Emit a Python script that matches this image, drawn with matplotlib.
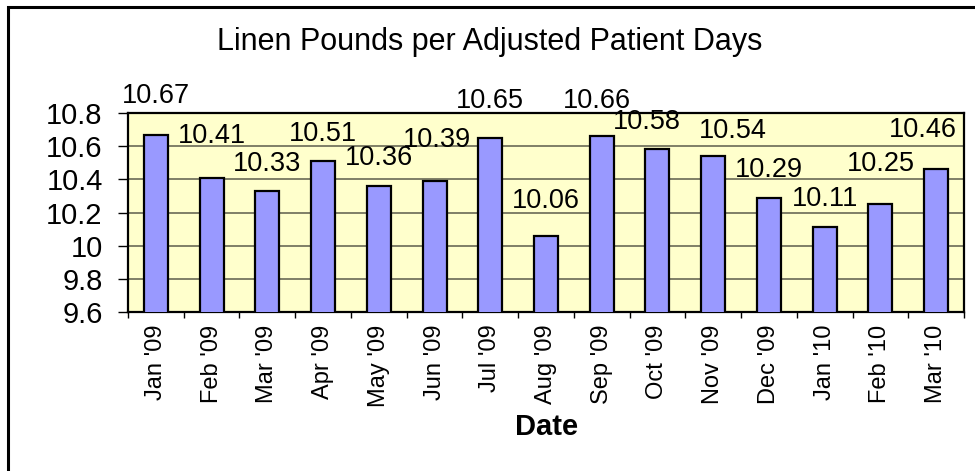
import numpy as np
import matplotlib
matplotlib.use('Agg')
import matplotlib.pyplot as plt
from matplotlib.patches import Rectangle

plt.rcParams['font.family'] = ['Liberation Sans', 'DejaVu Sans']

months = ["Jan '09", "Feb '09", "Mar '09", "Apr '09", "May '09", "Jun '09", "Jul '09",
          "Aug '09", "Sep '09", "Oct '09", "Nov '09", "Dec '09", "Jan '10", "Feb '10", "Mar '10"]
values = [10.67, 10.41, 10.33, 10.51, 10.36, 10.39, 10.65, 10.06,
          10.66, 10.58, 10.54, 10.29, 10.11, 10.25, 10.46]
y_ticks = [9.6, 9.8, 10.0, 10.2, 10.4, 10.6, 10.8]
y_ticklabels = ['9.6', '9.8', '10', '10.2', '10.4', '10.6', '10.8']

# where excel put each data label (pixels from top of bar)
label_dx = [0, 0, 0, 0, 0, 2, 0, 0, -5, -11, 20, 0, 0, 0, -13]
label_dy = [39, 42, 27, 27, 28, 41, 37, 35, 35, 27, 25, 28, 28, 40, 39]

W, H = 975, 471
fig = plt.figure(figsize=(W / 100, H / 100), dpi=100)

# chart frame (runs off right and bottom edges)
fig.patches.append(Rectangle((8 / W, -0.05), 1.0, 1 - 7 / H + 0.05, transform=fig.transFigure,
                             fill=False, ec='black', lw=2.2, clip_on=False))

ax = fig.add_axes([128 / W, 1 - 312 / H, (964 - 128) / W, (312 - 113) / H])
ax.set_facecolor('#FFFFCC')

x = np.arange(len(values))
ax.bar(x, values, width=0.43, color='#9999FF', edgecolor='black', linewidth=1.6, zorder=3)

ax.set_xlim(-0.5, len(values) - 0.5)
ax.set_ylim(9.6, 10.8)
ax.set_yticks(y_ticks)
ax.set_yticklabels(y_ticklabels, fontsize=21)
ax.yaxis.grid(True, color='#75755f', lw=1.3, zorder=1)
ax.tick_params(axis='y', direction='out', length=7.2, width=1, pad=11)

# category boundary ticks + centred labels
ax.set_xticks(np.arange(len(values) + 1) - 0.5)
ax.set_xticklabels([])
ax.tick_params(axis='x', which='major', direction='out', length=4.5, width=1)
ax.set_xticks(x, minor=True)
ax.set_xticklabels(months, minor=True, rotation=90, fontsize=17, va='top', ha='center')
ax.tick_params(axis='x', which='minor', length=0, pad=9)

for s in ax.spines.values():
    s.set_linewidth(1.6)
    s.set_color('black')

for i, v in enumerate(values):
    ax.annotate(f'{v:.2f}', (x[i], v), xytext=(label_dx[i], label_dy[i]),
                textcoords='offset pixels', ha='center', va='center', fontsize=19.5,
                annotation_clip=False, zorder=5)

fig.text(490 / W, 1 - 42 / H, 'Linen Pounds per Adjusted Patient Days', ha='center', va='center',
         fontsize=22)
fig.text(547 / W, 1 - 427 / H, 'Date', ha='center', va='center', fontsize=21, fontweight='bold')

fig.savefig('out.png', dpi=100)
